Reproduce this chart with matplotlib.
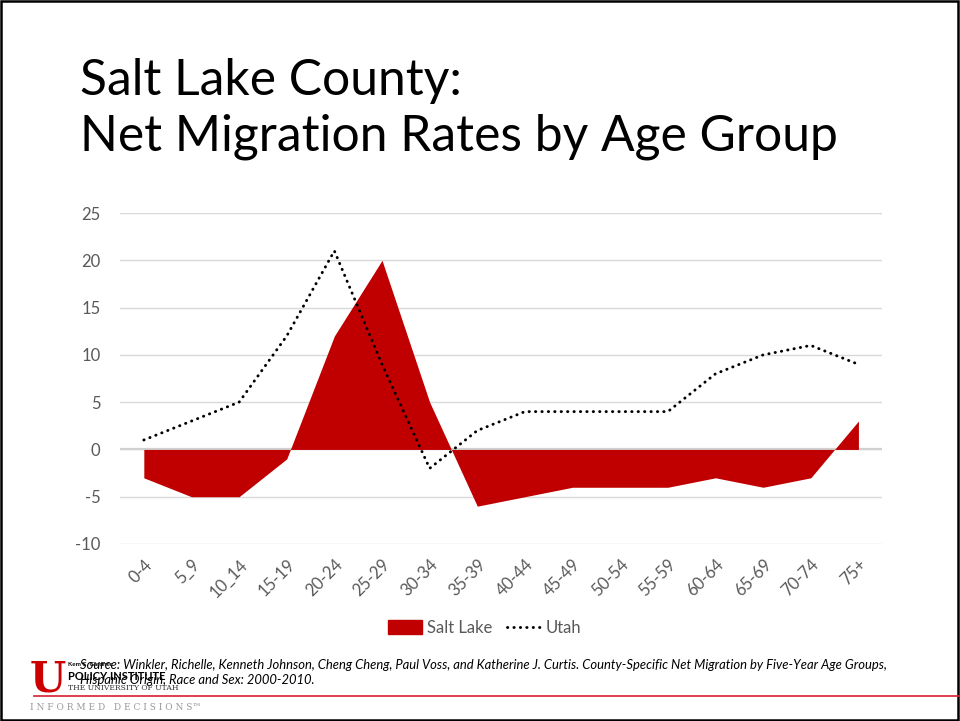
import matplotlib.pyplot as plt
from matplotlib.patches import Rectangle
from matplotlib.lines import Line2D
from matplotlib.patches import Patch

# data
age_groups = ['0-4', '5_9', '10_14', '15-19', '20-24', '25-29', '30-34', '35-39',
              '40-44', '45-49', '50-54', '55-59', '60-64', '65-69', '70-74', '75+']
salt_lake = [-3, -5, -5, -1, 12, 20, 5, -6, -5, -4, -4, -4, -3, -4, -3, 3]
utah = [1, 3, 5, 12, 21, 9, -2, 2, 4, 4, 4, 4, 8, 10, 11, 9]
y_ticks = [-10, -5, 0, 5, 10, 15, 20, 25]

RED = '#C00000'
GRAY = '#595959'
DOTS = (0, (0.1, 2.1))

plt.rcParams['font.family'] = ['Lato', 'DejaVu Sans']
plt.rcParams['axes.unicode_minus'] = False

fig = plt.figure(figsize=(9.6, 7.21), dpi=100)
ax = fig.add_axes([0.125, 0.2455, 0.794, 0.459])

x = list(range(len(age_groups)))
ax.fill_between(x, salt_lake, 0, color=RED, linewidth=0, zorder=2)
ax.plot(x, utah, color='black', linestyle=DOTS, linewidth=2.1,
        dash_capstyle='round', zorder=3)

ax.set_xlim(-0.5, len(age_groups) - 0.5)
ax.set_ylim(-10, 25)
ax.set_yticks(y_ticks)
ax.set_xticks(x)
ax.set_xticklabels(age_groups, rotation=45, ha='right', rotation_mode='anchor')
ax.tick_params(axis='both', length=0, colors=GRAY, labelsize=12)
ax.tick_params(axis='x', pad=9)
ax.tick_params(axis='y', pad=14)

for v in y_ticks:
    ax.axhline(v, color='#D9D9D9', linewidth=1.0, zorder=1)
ax.axhline(0, color='#D0D0D0', linewidth=1.6, zorder=1)
for s in ax.spines.values():
    s.set_visible(False)

handles = [Patch(color=RED, label='Salt Lake'),
           Line2D([], [], color='black', linestyle=DOTS, linewidth=2.1,
                  dash_capstyle='round', label='Utah')]
leg = fig.legend(handles=handles, loc='center', bbox_to_anchor=(0.505, 0.129),
                 ncol=2, frameon=False, fontsize=12, handlelength=2.0,
                 handleheight=0.9, columnspacing=0.9, handletextpad=0.3)
for t in leg.get_texts():
    t.set_color(GRAY)

# title
fig.text(0.083, 0.849, 'Salt Lake County:\nNet Migration Rates by Age Group',
         fontsize=35.8, color='black', ha='left', va='center', linespacing=1.25)

# footer
fig.text(0.083, 0.067, 'Source: Winkler, Richelle, Kenneth Johnson, Cheng Cheng, Paul Voss, and '
         'Katherine J. Curtis. County-Specific Net Migration by Five-Year Age Groups,\n'
         'Hispanic Origin, Race and Sex: 2000-2010.',
         fontsize=9.4, style='italic', color='black', ha='left', va='center', linespacing=1.35)
fig.text(0.031, 0.058, 'U', fontsize=30, fontweight='bold', family='DejaVu Serif',
         color='#CC0000', ha='left', va='center')
fig.text(0.071, 0.079, 'Kem C. Gardner', fontsize=4.5, fontweight='bold', color='black',
         ha='left', va='center')
fig.text(0.071, 0.062, 'POLICY INSTITUTE', fontsize=8, fontweight='bold', color='black',
         ha='left', va='center')
fig.text(0.071, 0.046, 'THE UNIVERSITY OF UTAH', fontsize=5.5, family='DejaVu Serif',
         color='#333333', ha='left', va='center')
fig.text(0.031, 0.019, 'I N F O R M E D   D E C I S I O N S\u2122', fontsize=6.5,
         color='#999999', ha='left', va='center', family='DejaVu Serif')
fig.add_artist(Line2D([0.035, 1.0], [0.034, 0.034], color='#D42030', linewidth=1.2,
                      transform=fig.transFigure))

# slide border
fig.add_artist(Rectangle((0.001, 0.002), 0.997, 0.996, transform=fig.transFigure,
                         fill=False, edgecolor='black', linewidth=1.8))

fig.savefig('out.png', dpi=100)
